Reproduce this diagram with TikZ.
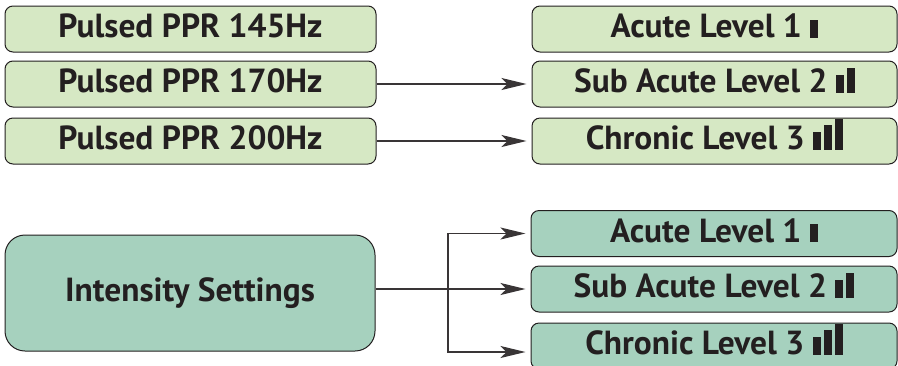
\documentclass[tikz,border=0pt]{standalone}
\usepackage{fontspec}
\setmainfont{PT Sans}
\usetikzlibrary{arrows.meta}

\definecolor{ink}{HTML}{231F20}
\definecolor{paleGreen}{HTML}{D6E8C4}
\definecolor{seaGreen}{HTML}{A6D1BE}

\newcommand{\barA}{\rule{4pt}{9pt}}
\newcommand{\barB}{\rule{4pt}{12.5pt}}
\newcommand{\barC}{\rule{4pt}{15.5pt}}

\begin{document}
\begin{tikzpicture}[x=0.5pt, y=-0.5pt
	, every node/.style={
	rectangle
	, draw=ink
	, line width=0.5pt
	, rounded corners=4pt
	, minimum height=23pt
	, inner sep=0pt
	, text height=12pt
	, text depth=3.5pt
	, text=ink
	, font=\bfseries\fontsize{16.7}{16.7}\selectfont
}, link/.style={draw=ink!90, line width=0.65pt, shorten >=2.5pt
	, -{Stealth[length=12.5pt, width=6pt, inset=3pt]}}]

\useasboundingbox (0,0) rectangle (898,365);

% pulsed rates and top levels
\foreach [count=\i] \y \rate \level in {
	29/145/{Acute Level 1 \barA}
	, 84/170/{Sub Acute Level 2 \barA\hspace{1.5pt}\barB}
	, 141/200/{Chronic Level 3 \barA\hspace{1.5pt}\barB\hspace{1.5pt}\barC}
}{
	\node[fill=paleGreen, minimum width=185.5pt](p\i) at(190.5, \y) {Pulsed PPR \rate Hz};
	\node[fill=paleGreen, minimum width=182.5pt](r\i) at(714.5, \y) {\level};
}

\draw[link] (p2) -- (r2);
\draw[link] (p3) -- (r3);

% intensity settings
\node[fill=seaGreen, minimum width=185pt, minimum height=58pt, rounded corners=10pt](int) at(190, 293) {Intensity Settings};

\foreach [count=\i] \y \level in {
	233.5/{Acute Level 1 \barA}
	, 289/{Sub Acute Level 2 \barA\hspace{1.5pt}\barB}
	, 346/{Chronic Level 3 \barA\hspace{1.5pt}\barB\hspace{1.5pt}\barC}
}{
	\node[fill=seaGreen, minimum width=183pt](b\i) at(714, \y) {\level};
}

\coordinate (fork) at(448, 289);
\draw[link] (int.east |- b2) -- (b2.west);
\draw[link] (fork) |- (b1.west);
\draw[link] (fork) |- ([yshift=-3pt]b3.west);

\end{tikzpicture}
\end{document}
